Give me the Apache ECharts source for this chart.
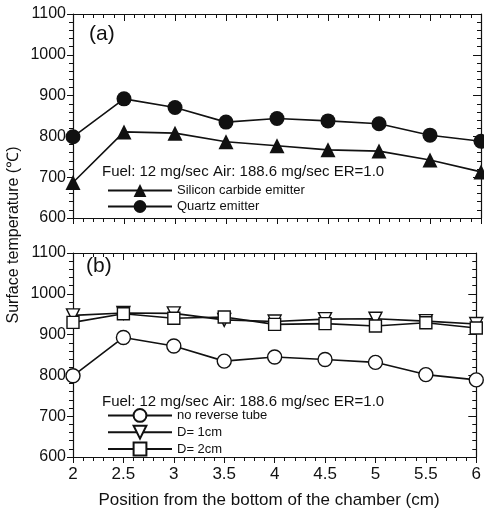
<!DOCTYPE html>
<html>
<head>
<meta charset="utf-8">
<script src="https://cdn.jsdelivr.net/npm/echarts@6.0.0/dist/echarts.min.js"></script>
<style>
  html, body { margin: 0; padding: 0; background: #fff; }
  #chart { width: 484px; height: 513px; }
</style>
</head>
<body>
<div id="chart"></div>
<script>
// 数据
var positions = [2, 2.5, 3, 3.5, 4, 4.5, 5, 5.5, 6]
var siliconCarbide = [687, 811, 808, 787, 777, 767, 764, 742, 713]
var quartz = [799, 892, 871, 835, 844, 838, 831, 803, 788]
var noReverseTube = [799, 893, 872, 835, 845, 839, 832, 802, 789]
var d1cm = [947, 953, 952, 936, 932, 938, 939, 933, 926]
var d2cm = [930, 951, 940, 943, 925, 927, 921, 929, 916]

var font = 'Liberation Sans, Arial, sans-serif'
var black = '#111'

function pairs (ys) {
  return positions.map(function (x, i) { return [x, ys[i]] })
}

// 底部/顶部 x 轴
function xAxes (gridIndex, showLabels) {
  var base = {
    type: 'value',
    gridIndex: gridIndex,
    min: 2,
    max: 6,
    interval: 0.5,
    axisLine: { show: true, lineStyle: { color: black, width: 1.2 } },
    splitLine: { show: false },
    minorSplitLine: { show: false }
  }
  var bottom = Object.assign({}, base, {
    position: 'bottom',
    axisTick: { show: true, inside: false, length: 6, lineStyle: { color: black } },
    minorTick: { show: true, splitNumber: 5, length: 4, lineStyle: { color: black } },
    axisLabel: {
      show: showLabels,
      color: black,
      fontFamily: font,
      fontSize: 17,
      margin: 9,
      formatter: function (v) { return String(v) }
    }
  })
  var top = Object.assign({}, base, {
    position: 'top',
    axisTick: { show: true, inside: true, length: 7, lineStyle: { color: black } },
    minorTick: { show: true, splitNumber: 5, length: 4, lineStyle: { color: black } },
    axisLabel: { show: false }
  })
  return [bottom, top]
}

function yAxes (gridIndex) {
  var base = {
    type: 'value',
    gridIndex: gridIndex,
    min: 600,
    max: 1100,
    interval: 100,
    axisLine: { show: true, lineStyle: { color: black, width: 1.2 } },
    splitLine: { show: false }
  }
  var left = Object.assign({}, base, {
    position: 'left',
    axisTick: { show: true, inside: false, length: 6, lineStyle: { color: black } },
    minorTick: { show: true, splitNumber: 5, length: 4, lineStyle: { color: black } },
    axisLabel: {
      color: black,
      fontFamily: font,
      fontSize: 16,
      margin: 7,
      formatter: function (v) { return String(v) }
    }
  })
  var right = Object.assign({}, base, {
    position: 'right',
    axisTick: { show: true, inside: true, length: 8, lineStyle: { color: black } },
    minorTick: { show: true, splitNumber: 5, length: 4, lineStyle: { color: black } },
    axisLabel: { show: false }
  })
  return [left, right]
}

var lineStyle = { color: black, width: 1.6 }

var chart = echarts.init(document.getElementById('chart'), null, { renderer: 'canvas' })

var option = {
  animation: false,
  backgroundColor: '#fff',
  grid: [
    { left: 73, top: 14, width: 408, height: 204 },
    { left: 73, top: 253, width: 408, height: 204 }
  ],
  xAxis: xAxes(0, false).concat(xAxes(1, true)),
  yAxis: yAxes(0).concat(yAxes(1)),
  legend: [
    {
      orient: 'vertical',
      left: 102,
      top: 179,
      itemWidth: 64,
      itemHeight: 16,
      itemGap: 3,
      data: ['Silicon carbide emitter', 'Quartz emitter'],
      textStyle: { color: black, fontFamily: font, fontSize: 13, padding: [0, 0, 0, 0] }
    },
    {
      orient: 'vertical',
      left: 102,
      top: 403,
      itemWidth: 64,
      itemHeight: 16,
      itemGap: 2,
      data: ['no reverse tube', 'D= 1cm', 'D= 2cm'],
      textStyle: { color: black, fontFamily: font, fontSize: 13, padding: [0, 0, 0, 0] }
    }
  ],
  graphic: [
    { type: 'text', left: 89, top: 24, style: { text: '(a)', font: '21px ' + font, fill: black } },
    { type: 'text', left: 86, top: 256, style: { text: '(b)', font: '21px ' + font, fill: black } },
    { type: 'text', left: 102, top: 164, style: { text: 'Fuel: 12 mg/sec Air: 188.6 mg/sec ER=1.0', font: '15px ' + font, fill: black } },
    { type: 'text', left: 102, top: 394, style: { text: 'Fuel: 12 mg/sec Air: 188.6 mg/sec ER=1.0', font: '15px ' + font, fill: black } },
    {
      type: 'text',
      x: 14,
      y: 235,
      rotation: Math.PI / 2,
      style: {
        text: 'Surface temperature (℃)',
        font: '16px ' + font,
        fill: black,
        textAlign: 'center',
        textVerticalAlign: 'middle'
      }
    },
    {
      type: 'text',
      x: 269,
      y: 500,
      style: {
        text: 'Position from the bottom of the chamber (cm)',
        font: '17px ' + font,
        fill: black,
        textAlign: 'center',
        textVerticalAlign: 'middle'
      }
    }
  ],
  series: [
    {
      name: 'Silicon carbide emitter',
      type: 'line',
      xAxisIndex: 0,
      yAxisIndex: 0,
      data: pairs(siliconCarbide),
      symbol: 'triangle',
      symbolSize: 15,
      lineStyle: lineStyle,
      itemStyle: { color: black }
    },
    {
      name: 'Quartz emitter',
      type: 'line',
      xAxisIndex: 0,
      yAxisIndex: 0,
      data: pairs(quartz),
      symbol: 'circle',
      symbolSize: 15,
      lineStyle: lineStyle,
      itemStyle: { color: black }
    },
    {
      name: 'no reverse tube',
      type: 'line',
      xAxisIndex: 2,
      yAxisIndex: 2,
      data: pairs(noReverseTube),
      symbol: 'circle',
      symbolSize: 14,
      lineStyle: lineStyle,
      itemStyle: { color: '#fff', borderColor: black, borderWidth: 1.4 }
    },
    {
      name: 'D= 1cm',
      type: 'line',
      xAxisIndex: 2,
      yAxisIndex: 2,
      data: pairs(d1cm),
      symbol: 'triangle',
      symbolRotate: 180,
      symbolSize: 13,
      lineStyle: lineStyle,
      itemStyle: { color: '#fff', borderColor: black, borderWidth: 1.4 }
    },
    {
      name: 'D= 2cm',
      type: 'line',
      xAxisIndex: 2,
      yAxisIndex: 2,
      data: pairs(d2cm),
      symbol: 'rect',
      symbolSize: 12,
      lineStyle: lineStyle,
      itemStyle: { color: '#fff', borderColor: black, borderWidth: 1.4 }
    }
  ]
}

chart.setOption(option)
</script>
</body>
</html>
